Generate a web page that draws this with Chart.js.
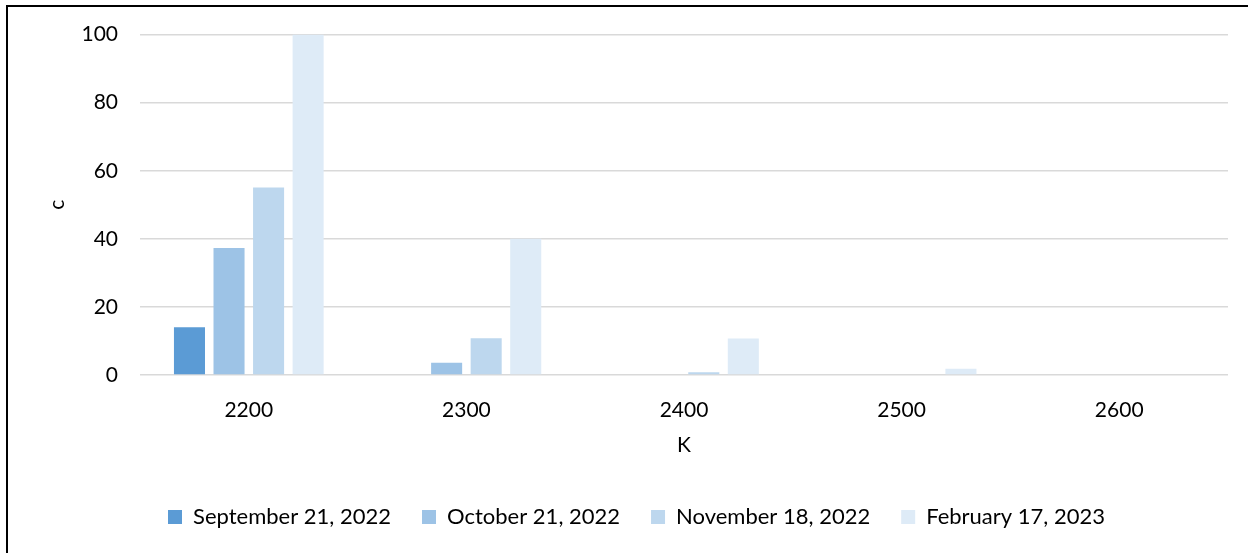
<!DOCTYPE html>
<html>
<head>
<meta charset="utf-8">
<script src="https://cdn.jsdelivr.net/npm/chart.js@4.4.0/dist/chart.umd.min.js"></script>
<style>
  html, body { margin: 0; padding: 0; background: #fff; }
  #wrap { position: relative; width: 1253px; height: 553px; }
  #frame { position: absolute; left: 6px; top: 5px; width: 1240px; height: 560px;
           border-left: 2px solid #000; border-top: 2px solid #000; pointer-events: none; }
</style>
</head>
<body>
<div id="wrap">
  <canvas id="strikeChart" width="1253" height="553"></canvas>
  <div id="frame"></div>
</div>
<script>
// Strike buckets along the x axis
const strikes = ['2200', '2300', '2400', '2500', '2600'];

// One series per observation date
const sep21 = [14, 0, 0, 0, 0];
const oct21 = [37.3, 3.6, 0, 0, 0];
const nov18 = [55.1, 10.8, 0.8, 0, 0];
const feb17 = [100, 40, 10.7, 1.8, 0];

const seriesNames = ['September 21, 2022', 'October 21, 2022', 'November 18, 2022', 'February 17, 2023'];
const seriesColors = ['#5B9BD5', '#9DC3E6', '#BDD7EE', '#DEEBF7'];
const seriesData = [sep21, oct21, nov18, feb17];

const yTicks = [0, 20, 40, 60, 80, 100];

Chart.defaults.font.family = 'Lato';
Chart.defaults.font.size = 21;
Chart.defaults.color = '#000';

const ctx = document.getElementById('strikeChart').getContext('2d');
const strikeChart = new Chart(ctx, {
    type: 'bar',
    data: {
        labels: strikes,
        datasets: seriesData.map((d, i) => ({
            label: seriesNames[i],
            data: d,
            backgroundColor: seriesColors[i],
            borderWidth: 0,
            categoryPercentage: 0.727,
            barPercentage: 0.785
        }))
    },
    options: {
        responsive: false,
        animation: false,
        layout: { padding: { left: 45, right: 25, top: 34, bottom: 15 } },
        plugins: {
            tooltip: { enabled: false },
            legend: {
                position: 'bottom',
                labels: { boxWidth: 14, boxHeight: 14, padding: 31, font: { size: 22 } }
            }
        },
        scales: {
            x: {
                grid: { display: false, drawTicks: false },
                border: { display: false },
                ticks: { padding: 23, font: { size: 21 } },
                title: { display: true, text: 'K', font: { size: 21 }, padding: { top: 10, bottom: 17 } },
                afterFit: (scale) => { scale.height = 100; }
            },
            y: {
                min: 0,
                max: 100,
                grid: { color: '#D9D9D9', lineWidth: 1.5, drawTicks: false },
                border: { display: false },
                afterBuildTicks: (scale) => { scale.ticks = yTicks.map(v => ({ value: v })); },
                ticks: { padding: 22, font: { size: 21 } },
                title: { display: true, text: 'c', font: { size: 21 }, padding: { top: 0, bottom: 0 } },
                afterFit: (scale) => { scale.width = 95; }
            }
        }
    }
});
</script>
</body>
</html>
